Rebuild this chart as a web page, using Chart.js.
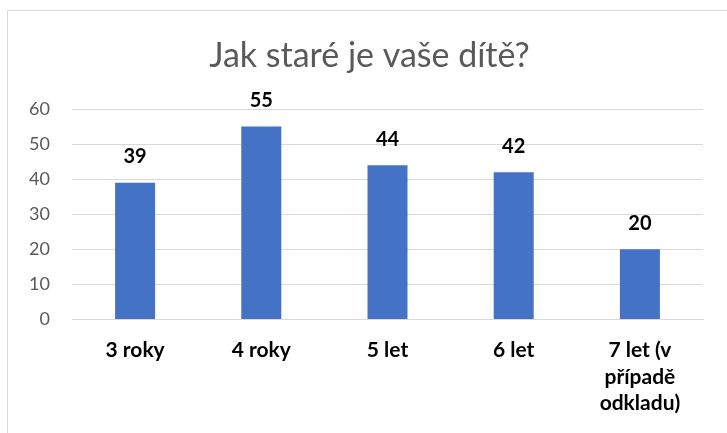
<!DOCTYPE html>
<html>
<head>
<meta charset="utf-8">
<script src="https://cdn.jsdelivr.net/npm/chart.js@4"></script>
<style>
  html, body { margin: 0; padding: 0; background: #fff; }
  #wrap { position: absolute; left: 0; top: 0; width: 727px; height: 433px; }
</style>
</head>
<body>
<div id="wrap"><canvas id="chart"></canvas></div>
<script>
// data
const categories = ['3 roky', '4 roky', '5 let', '6 let', ['7 let (v', 'případě', 'odkladu)']];
const counts = [39, 55, 44, 42, 20];
const yTicks = [0, 10, 20, 30, 40, 50, 60];
const chartTitle = 'Jak staré je vaše dítě?';

const FONT = 'Lato, "Open Sans", sans-serif';

// frame around the chart + title centred on that frame
const framePlugin = {
    id: 'frame',
    beforeDraw(chart) {
        const ctx = chart.ctx;
        ctx.save();
        ctx.strokeStyle = '#d9d9d9';
        ctx.lineWidth = 1;
        ctx.strokeRect(7.5, 10.5, chart.width + 10, chart.height + 10);
        ctx.font = '34px ' + FONT;
        ctx.fillStyle = '#595959';
        ctx.textAlign = 'center';
        ctx.textBaseline = 'alphabetic';
        ctx.fillText(chartTitle, 369.5, 67);
        ctx.restore();
    }
};

// value labels above each bar
const valueLabels = {
    id: 'valueLabels',
    afterDatasetsDraw(chart) {
        const ctx = chart.ctx;
        const meta = chart.getDatasetMeta(0);
        ctx.save();
        ctx.font = 'bold 20px ' + FONT;
        ctx.fillStyle = '#000';
        ctx.textAlign = 'center';
        ctx.textBaseline = 'middle';
        meta.data.forEach((bar, i) => {
            ctx.fillText(counts[i], bar.x, bar.y - 26);
        });
        ctx.restore();
    }
};

new Chart(document.getElementById('chart'), {
    type: 'bar',
    data: {
        labels: categories,
        datasets: [{
            data: counts,
            backgroundColor: '#4472c4',
            borderWidth: 0,
            categoryPercentage: 1,
            barPercentage: 0.317
        }]
    },
    options: {
        responsive: true,
        maintainAspectRatio: false,
        animation: false,
        layout: { padding: { left: 0, right: 24, top: 109, bottom: 0 } },
        plugins: {
            legend: { display: false },
            tooltip: { enabled: false },
            title: { display: false }
        },
        scales: {
            x: {
                grid: { display: false, drawTicks: false },
                border: { color: '#d9d9d9', width: 1 },
                ticks: {
                    color: '#000',
                    font: { family: FONT, size: 21, weight: 'bold', lineHeight: 1.26 },
                    padding: 18,
                    maxRotation: 0,
                    autoSkip: false
                },
                afterFit(scale) { scale.height = 113.5; }
            },
            y: {
                min: 0,
                max: 60,
                afterBuildTicks(scale) { scale.ticks = yTicks.map(v => ({ value: v })); },
                grid: { color: '#d9d9d9', drawTicks: false },
                border: { display: false },
                ticks: {
                    color: '#595959',
                    font: { family: FONT, size: 18 },
                    padding: 22
                },
                afterFit(scale) { scale.width = 72; }
            }
        }
    },
    plugins: [framePlugin, valueLabels]
});
</script>
</body>
</html>
